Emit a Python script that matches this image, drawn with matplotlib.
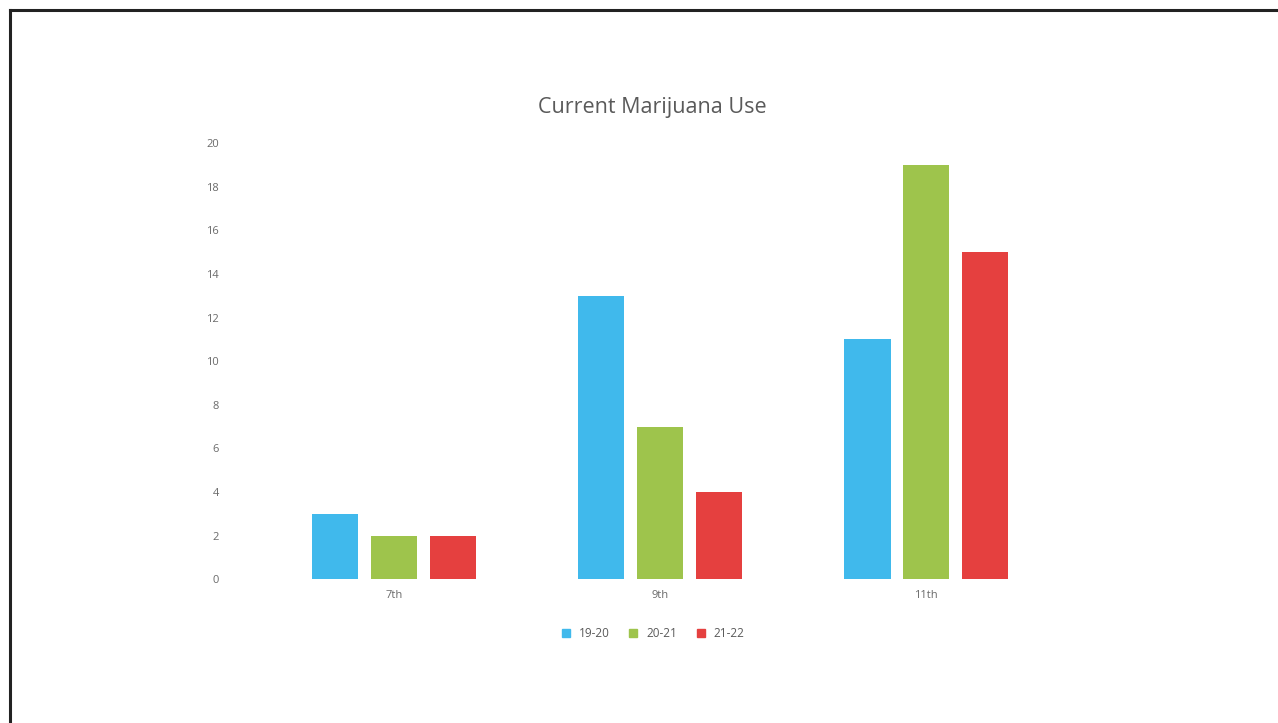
import numpy as np
import matplotlib.pyplot as plt
from matplotlib.lines import Line2D

# data
grades = ['7th', '9th', '11th']
years = ['19-20', '20-21', '21-22']
use_1920 = [3, 13, 11]
use_2021 = [2, 7, 19]
use_2122 = [2, 4, 15]
yticks = [0, 2, 4, 6, 8, 10, 12, 14, 16, 18, 20]

colors = ['#40b9ec', '#9ec44c', '#e5403f']
text_grey = '#5a5a5a'

plt.rcParams['font.family'] = ['Open Sans', 'DejaVu Sans']

fig = plt.figure(figsize=(12.78, 7.23), dpi=100)
ax = fig.add_axes([0.204, 0.199, 0.625, 0.603])

x = np.arange(len(grades))
width = 0.173
step = 0.221
series = [use_1920, use_2021, use_2122]
for i, (vals, c, lab) in enumerate(zip(series, colors, years)):
    ax.bar(x + (i - 1) * step, vals, width, color=c, label=lab)

ax.set_xlim(-0.5, len(grades) - 0.5)
ax.set_ylim(0, 20)
ax.set_yticks(yticks)
ax.set_xticks(x)
ax.set_xticklabels(grades)
ax.tick_params(axis='both', length=0, labelsize=8, colors='#6a6a6a')
ax.tick_params(axis='y', pad=30)
ax.tick_params(axis='x', pad=8)
for s in ax.spines.values():
    s.set_visible(False)

ax.set_title('Current Marijuana Use', fontsize=15.5, color=text_grey, pad=22, x=0.49)

handles = [Line2D([], [], marker='s', linestyle='', color=c, markersize=6) for c in colors]
fig.legend(handles, years, loc='center', bbox_to_anchor=(0.508, 0.124), ncol=3,
           frameon=False, fontsize=8.5, labelcolor=text_grey, handletextpad=0.1,
           columnspacing=1.0)

# page frame (top and left edges visible in the scan)
fig.add_artist(Line2D([0.008, 1.0], [0.986, 0.986], color='#222222', lw=2.2,
                      transform=fig.transFigure))
fig.add_artist(Line2D([0.008, 0.008], [0.0, 0.986], color='#222222', lw=2.2,
                      transform=fig.transFigure))

fig.savefig('out.png', dpi=100)
